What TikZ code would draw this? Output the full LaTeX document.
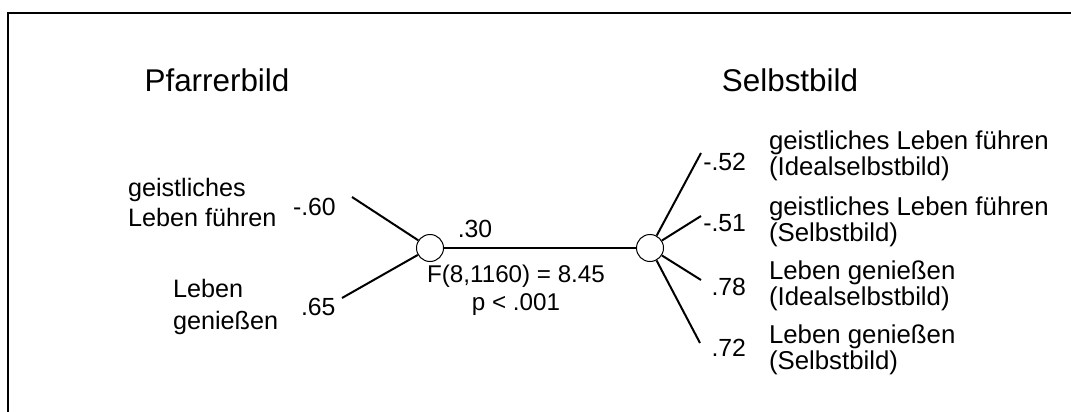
\documentclass[tikz,border=0pt]{standalone}
\usepackage{fontspec}
\setmainfont{Liberation Sans}
\usetikzlibrary{positioning}

\begin{document}
\begin{tikzpicture}[x=0.5pt, y=-0.5pt, line width=1pt,
    titel/.style={font=\fontsize{15.7}{18}\selectfont, inner sep=0pt},
    linkstext/.style={font=\fontsize{12.6}{15}\selectfont, align=left, inner sep=0pt},
    rechtstext/.style={font=\fontsize{12.9}{13}\selectfont, align=left, inner sep=0pt},
    wert/.style={font=\fontsize{12.4}{15}\selectfont, inner sep=0pt},
    knoten/.style={circle, draw, line width=0.5pt, fill=white, minimum size=13.5pt, inner sep=0pt}]
    \useasboundingbox (0,0) rectangle (1071,412);

    % 1. Rahmen (nur oben und links)
    \draw (8,412) -- (8,13) -- (1071,13);

    % 2. Ueberschriften
    \node[titel, anchor=north] (pfarrer) at (217,68) {Pfarrerbild};
    \node[titel, anchor=north] (selbst) at (790,68) {Selbstbild};

    % 3. Knoten und Verbindung
    \node[knoten] (lk) at (430,248) {};
    \node[knoten] (rk) at (650,248) {};
    \draw (lk) -- (rk);
    \node[wert] (r) at (475,229) {.30};
    \node[wert, anchor=north, align=center, font=\fontsize{12.1}{14}\selectfont] (ftest) at (516,264)
        {F(8,1160) = 8.45\\p < .001};

    % 4. Linke Seite
    \coordinate (l1) at (352,197);
    \coordinate (l2) at (342,298);
    \draw (lk) -- (l1);
    \draw (lk) -- (l2);
    \node[linkstext, anchor=north west] (lgeist) at (127,177) {geistliches\\Leben führen};
    \node[linkstext, anchor=north west, font=\fontsize{12.6}{16}\selectfont] (lleben) at (172,278) {Leben\\genießen};
    \node[wert, anchor=north west] (w1) at (292,197) {-.60};
    \node[wert, anchor=north west] (w2) at (300,297) {.65};

    % 5. Rechte Seite
    \coordinate (r1) at (701,153);
    \coordinate (r2) at (701,216);
    \coordinate (r3) at (701,280);
    \coordinate (r4) at (700,343);
    \foreach \z in {r1,r2,r3,r4}
        \draw (rk) -- (\z);
    \node[wert, anchor=north east] (w3) at (747,152) {-.52};
    \node[wert, anchor=north east] (w4) at (747,213) {-.51};
    \node[wert, anchor=north east] (w5) at (747,277) {.78};
    \node[wert, anchor=north east] (w6) at (747,338) {.72};
    \node[rechtstext, anchor=north west] (t1) at (768,130) {geistliches Leben führen\\(Idealselbstbild)};
    \node[rechtstext, anchor=north west] (t2) at (768,196) {geistliches Leben führen\\(Selbstbild)};
    \node[rechtstext, anchor=north west] (t3) at (768,260) {Leben genießen\\(Idealselbstbild)};
    \node[rechtstext, anchor=north west] (t4) at (768,324) {Leben genießen\\(Selbstbild)};
\end{tikzpicture}
\end{document}
